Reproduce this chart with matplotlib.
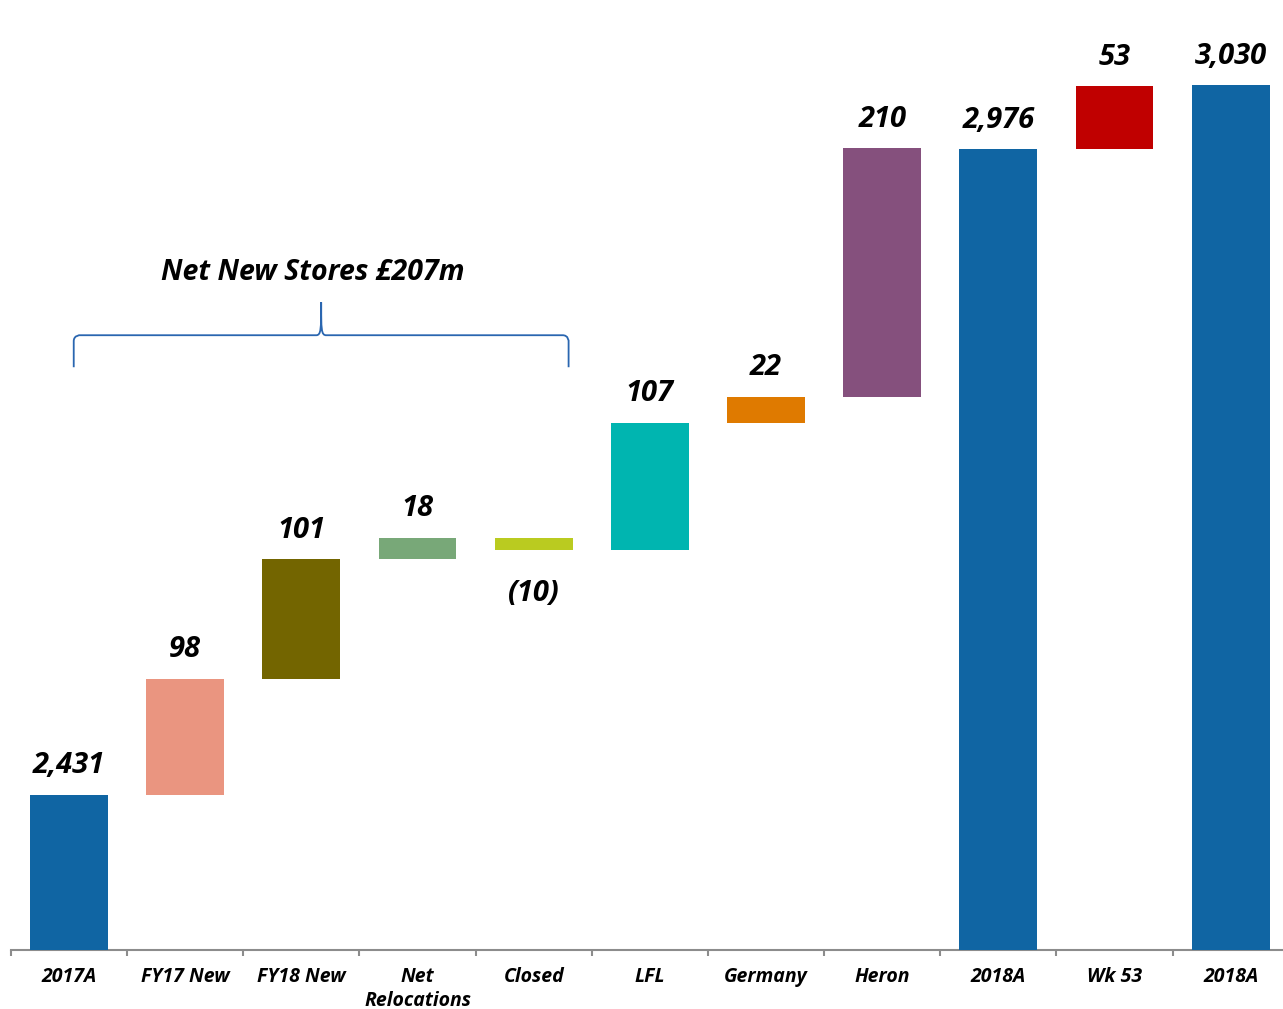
import matplotlib
matplotlib.use("Agg")
import matplotlib.pyplot as plt
import numpy as np
from matplotlib.path import Path
from matplotlib.patches import PathPatch

# waterfall steps, 2017A -> 2018A
categories = ['2017A', 'FY17 New', 'FY18 New', 'Net\nRelocations', 'Closed',
              'LFL', 'Germany', 'Heron', '2018A', 'Wk 53', '2018A']
values = [2431, 98, 101, 18, -10, 107, 22, 210, 2976, 53, 3030]
is_total = [True, False, False, False, False, False, False, False, True, False, True]
colors = ['#1065a3', '#ea9580', '#736500', '#78a878', '#bacb20', '#00b5b0',
          '#df7a00', '#85507d', '#1065a3', '#c00000', '#1065a3']

brace_text = 'Net New Stores £207m'
brace_span = (0.04, 4.3)  # FY17 New .. Closed, roughly

plt.rcParams['font.family'] = ['Open Sans', 'DejaVu Sans']

fig = plt.figure(figsize=(12.83, 10.09), dpi=100)
ax = fig.add_axes([11 / 1283, 59 / 1009, 1 - 11 / 1283, 950 / 1009])
ax.set_xlim(-0.5, 10.45)
ax.set_ylim(2300, 3102)

running = 0
bottoms, heights = [], []
for v, tot in zip(values, is_total):
    if tot:
        bottoms.append(0)
        heights.append(v)
        running = v
    else:
        bottoms.append(running if v >= 0 else running + v)
        heights.append(abs(v))
        running += v

x = np.arange(len(categories))
ax.bar(x, heights, bottom=bottoms, width=0.67, color=colors, zorder=3)

for xi, v, b, h in zip(x, values, bottoms, heights):
    txt = f'{v:,}' if v >= 0 else f'({-v:,})'
    if v >= 0:
        ax.annotate(txt, (xi, b + h), xytext=(0, 15.5), textcoords='offset points',
                    ha='center', va='baseline', fontsize=21,
                    fontweight='bold', fontstyle='italic')
    else:
        ax.annotate(txt, (xi, b), xytext=(0, -21), textcoords='offset points',
                    ha='center', va='top', fontsize=21,
                    fontweight='bold', fontstyle='italic')

for s in ['top', 'right', 'left']:
    ax.spines[s].set_visible(False)
ax.spines['bottom'].set_color('#8c8c8c')
ax.spines['bottom'].set_linewidth(1.5)
ax.set_yticks([])
ax.set_xticks(x, categories)
ax.set_xticks(np.arange(-0.5, 10, 1), minor=True)
ax.tick_params(axis='x', which='major', length=0, pad=12)
ax.tick_params(axis='x', which='minor', length=4.5, width=1.5, color='#8c8c8c')
for lab in ax.get_xticklabels():
    lab.set_fontsize(14)
    lab.set_fontweight('bold')
    lab.set_fontstyle('italic')
    lab.set_linespacing(1.3)


def curly_brace(ax, x0, x1, y, drop, rise, color):
    # brace drawn in pixel space so the corners stay round
    t = ax.transData
    px0, py = t.transform((x0, y))
    px1, _ = t.transform((x1, y))
    pm = (px0 + px1) / 2
    r = 6
    verts = [
        (px0, py - drop), (px0, py - r),
        (px0, py), (px0 + r, py), (px0 + r, py),
        (pm - 5, py),
        (pm, py), (pm, py + 6), (pm, py + rise),
        (pm, py + 6), (pm, py), (pm + 5, py),
        (px1 - r, py),
        (px1, py), (px1, py - r), (px1, py - r),
        (px1, py - drop),
    ]
    codes = [Path.MOVETO, Path.LINETO,
             Path.CURVE4, Path.CURVE4, Path.CURVE4,
             Path.LINETO,
             Path.CURVE4, Path.CURVE4, Path.CURVE4,
             Path.CURVE4, Path.CURVE4, Path.CURVE4,
             Path.LINETO,
             Path.CURVE4, Path.CURVE4, Path.CURVE4,
             Path.LINETO]
    patch = PathPatch(Path(verts, codes), transform=None, fill=False,
                      edgecolor=color, linewidth=1.3)
    fig.add_artist(patch)


curly_brace(ax, brace_span[0], brace_span[1], 2819, 32, 33, '#2a66b0')
ax.text(2.1, 2872, brace_text, ha='center', va='center', fontsize=20.5,
        fontweight='bold', fontstyle='italic')

fig.savefig('out.png', dpi=100)
